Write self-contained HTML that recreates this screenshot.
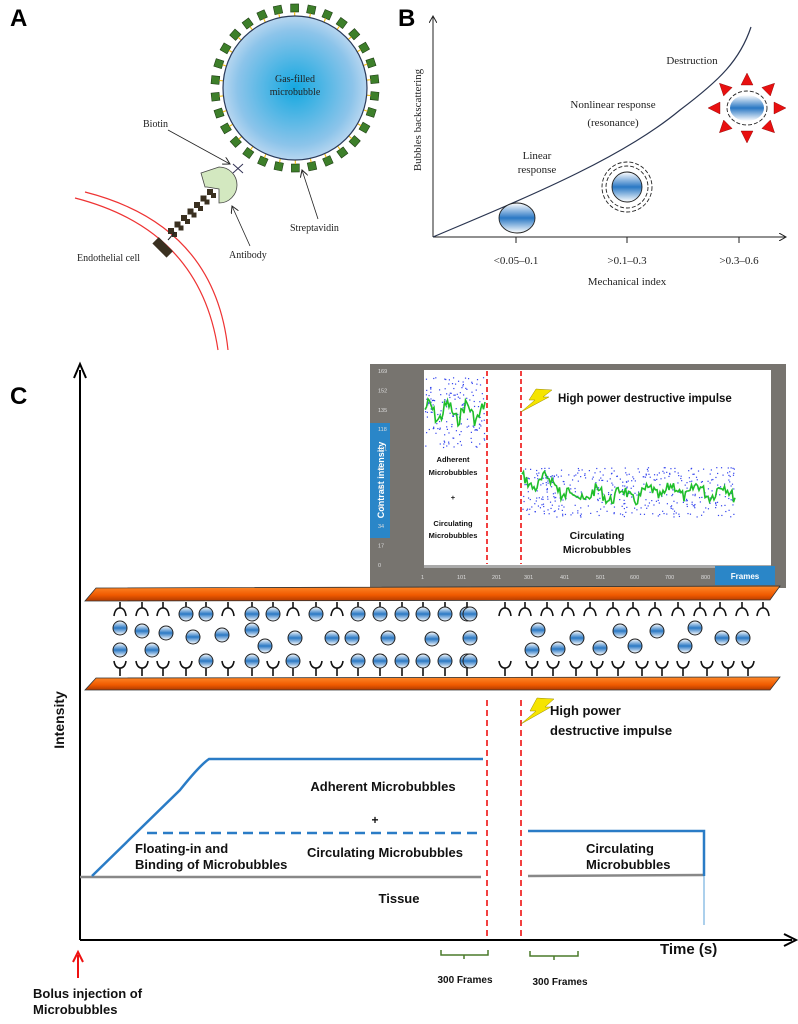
<!DOCTYPE html>
<html><head><meta charset="utf-8"><style>
html,body{margin:0;padding:0;background:#fff}
svg{display:block}
.s{font-family:"Liberation Serif",serif;fill:#222}
.b{font-family:"Liberation Sans Narrow","Liberation Sans",sans-serif;font-weight:bold;fill:#111}
</style></head><body>
<svg id="s" width="798" height="1024" viewBox="0 0 798 1024" xmlns="http://www.w3.org/2000/svg">
<defs>
<radialGradient id="gb" cx="50%" cy="50%" r="50%"><stop offset="0" stop-color="#14a8e0"/><stop offset="0.8" stop-color="#8cc4ea"/><stop offset="1" stop-color="#b7d6f0"/></radialGradient>
<linearGradient id="bb" x1="0" y1="0" x2="0" y2="1"><stop offset="0" stop-color="#fff"/><stop offset="0.5" stop-color="#2a78c4"/><stop offset="1" stop-color="#fff"/></linearGradient>
<linearGradient id="or" x1="0" y1="0" x2="0" y2="1"><stop offset="0" stop-color="#ff8a2a"/><stop offset="0.6" stop-color="#f05a00"/><stop offset="1" stop-color="#b03a00"/></linearGradient>
<marker id="ar" markerWidth="8" markerHeight="8" refX="7" refY="4" orient="auto" markerUnits="userSpaceOnUse"><path d="M0,0 L7,4 L0,8" fill="none" stroke="#222" stroke-width="1"/></marker>
</defs>

<!-- Panel A -->
<text x="10" y="26" font-family="Liberation Sans" font-weight="bold" font-size="24">A</text>
<path d="M75,198 Q200,230 218,350" fill="none" stroke="#e33" stroke-width="1.2"/>
<path d="M85,192 Q215,225 228,350" fill="none" stroke="#e33" stroke-width="1.2"/>
<g id="sq"></g>
<circle cx="295" cy="88" r="72" fill="url(#gb)" stroke="#2a3a5a" stroke-width="1.2"/>
<text class="s" x="295" y="82" font-size="10" text-anchor="middle">Gas-filled</text>
<text class="s" x="295" y="95" font-size="10" text-anchor="middle">microbubble</text>
<text class="s" x="143" y="127" font-size="10">Biotin</text>
<line x1="168" y1="130" x2="230" y2="164" stroke="#222" stroke-width="0.8" marker-end="url(#ar)"/>
<path d="M233,164 L243,173 M243,164 L233,173" stroke="#335" stroke-width="1"/>
<path d="M222,185 m-3,-18 a18,18 0 1,1 -0,36 l0,-14 l-12,-2 l-2,-0 l-4,-14 z" fill="#d3e8c0" stroke="#444" stroke-width="0.8"/>
<g id="chain"></g>
<text class="s" x="77" y="261" font-size="10">Endothelial cell</text>
<text class="s" x="229" y="258" font-size="10">Antibody</text>
<line x1="250" y1="246" x2="232" y2="206" stroke="#222" stroke-width="0.8" marker-end="url(#ar)"/>
<text class="s" x="290" y="231" font-size="10">Streptavidin</text>
<line x1="318" y1="219" x2="302" y2="170" stroke="#222" stroke-width="0.8" marker-end="url(#ar)"/>

<!-- Panel B -->
<text x="398" y="26" font-family="Liberation Sans" font-weight="bold" font-size="24">B</text>
<line x1="433" y1="237" x2="433" y2="16" stroke="#222" stroke-width="1" marker-end="url(#ar)"/>
<line x1="433" y1="237" x2="786" y2="237" stroke="#222" stroke-width="1" marker-end="url(#ar)"/>
<path d="M433,237 C520,200 620,160 680,110 C720,80 740,60 751,27" fill="none" stroke="#2a3550" stroke-width="1.2"/>
<line x1="516" y1="237" x2="516" y2="243" stroke="#222"/><line x1="627" y1="237" x2="627" y2="243" stroke="#222"/><line x1="739" y1="237" x2="739" y2="243" stroke="#222"/>
<text class="s" x="516" y="264" font-size="11" text-anchor="middle">&lt;0.05–0.1</text>
<text class="s" x="627" y="264" font-size="11" text-anchor="middle">&gt;0.1–0.3</text>
<text class="s" x="739" y="264" font-size="11" text-anchor="middle">&gt;0.3–0.6</text>
<text class="s" x="627" y="285" font-size="11" text-anchor="middle">Mechanical index</text>
<text class="s" transform="translate(421,120) rotate(-90)" font-size="11" text-anchor="middle">Bubbles backscattering</text>
<text class="s" x="692" y="64" font-size="11" text-anchor="middle">Destruction</text>
<text class="s" x="613" y="108" font-size="11" text-anchor="middle">Nonlinear response</text>
<text class="s" x="613" y="126" font-size="11" text-anchor="middle">(resonance)</text>
<text class="s" x="537" y="159" font-size="11" text-anchor="middle">Linear</text>
<text class="s" x="537" y="173" font-size="11" text-anchor="middle">response</text>
<ellipse cx="517" cy="218" rx="18" ry="15" fill="url(#bb)" stroke="#222" stroke-width="0.9"/>
<circle cx="627" cy="187" r="25" fill="none" stroke="#222" stroke-width="0.9" stroke-dasharray="4,2"/>
<circle cx="627" cy="187" r="21" fill="none" stroke="#222" stroke-width="0.9" stroke-dasharray="4,2"/>
<circle cx="627" cy="187" r="15" fill="url(#bb)" stroke="#222" stroke-width="0.9"/>
<ellipse cx="747" cy="108" rx="20" ry="17" fill="none" stroke="#222" stroke-width="0.9" stroke-dasharray="4,2"/>
<ellipse cx="747" cy="108" rx="17" ry="13" fill="url(#bb)"/>
<g id="tri"></g>

<!-- Panel C -->
<text x="10" y="404" font-family="Liberation Sans" font-weight="bold" font-size="24">C</text>
<line x1="80" y1="940" x2="80" y2="370" stroke="#000" stroke-width="2"/>
<path d="M74,378 L80,364 L86,378" fill="none" stroke="#000" stroke-width="2"/>
<line x1="80" y1="940" x2="792" y2="940" stroke="#000" stroke-width="2"/>
<path d="M784,934 L796,940 L784,946" fill="none" stroke="#000" stroke-width="2"/>
<text class="b" transform="translate(64,720) rotate(-90)" font-size="14" text-anchor="middle" font-family="Liberation Sans">Intensity</text>

<!-- inset -->
<rect x="370" y="364" width="416" height="224" fill="#77746f"/>
<rect x="424" y="370" width="347" height="195" fill="#fff"/>
<rect x="370" y="423" width="20" height="115" fill="#2a86c8"/>
<text transform="translate(384,480) rotate(-90)" font-family="Liberation Sans" font-weight="bold" font-size="9" fill="#fff" text-anchor="middle">Contrast intensity</text>
<g id="yl" font-family="Liberation Sans" font-size="5.5" fill="#ddd"></g>
<rect x="424" y="565" width="347" height="3" fill="#aaa"/>
<g id="xl" font-family="Liberation Sans" font-size="5.5" fill="#ddd"></g>
<rect x="715" y="566" width="60" height="19" fill="#2a86c8"/>
<text x="745" y="579" font-family="Liberation Sans" font-weight="bold" font-size="8" fill="#fff" text-anchor="middle">Frames</text>
<g id="dots"></g>
<polyline id="gl1" fill="none" stroke="#1fbe2a" stroke-width="1.6"/>
<polyline id="gl2" fill="none" stroke="#1fbe2a" stroke-width="1.6"/>
<line x1="487" y1="371" x2="487" y2="564" stroke="#e11" stroke-width="1.6" stroke-dasharray="5,3"/>
<line x1="521" y1="371" x2="521" y2="564" stroke="#e11" stroke-width="1.6" stroke-dasharray="5,3"/>
<path d="M536,389 L552,390 L543,397 L549,397 L521,412 L535,400 L529,400 Z" fill="#f5e400" stroke="#9a8a00" stroke-width="0.5"/>
<text x="558" y="402" font-family="Liberation Sans" font-weight="bold" font-size="11.5" fill="#111">High power destructive impulse</text>
<g font-family="Liberation Sans" font-weight="bold" font-size="7.5" fill="#111" text-anchor="middle">
<text x="453" y="462">Adherent</text><text x="453" y="475">Microbubbles</text><text x="453" y="500">+</text>
<text x="453" y="526">Circulating</text><text x="453" y="538">Microbubbles</text></g>
<g font-family="Liberation Sans" font-weight="bold" font-size="10.5" fill="#111" text-anchor="middle">
<text x="597" y="539">Circulating</text><text x="597" y="553">Microbubbles</text></g>

<!-- vessel -->
<path d="M96,588 L780,586 L770,600 L85,601 Z" fill="url(#or)" stroke="#333" stroke-width="0.8"/>
<path d="M96,678 L780,677 L770,690 L85,690 Z" fill="url(#or)" stroke="#333" stroke-width="0.8"/>
<g id="ves" stroke="#111" stroke-width="1.6" fill="none"></g>

<!-- lower graph -->
<line x1="487" y1="700" x2="487" y2="940" stroke="#e11" stroke-width="1.6" stroke-dasharray="6,4"/>
<line x1="521" y1="700" x2="521" y2="940" stroke="#e11" stroke-width="1.6" stroke-dasharray="6,4"/>
<path d="M537,698 L554,699 L545,707 L551,707 L521,724 L536,711 L530,711 Z" fill="#f5e400" stroke="#9a8a00" stroke-width="0.5"/>
<text class="b" x="550" y="715" font-size="13">High power</text>
<text class="b" x="550" y="735" font-size="13">destructive impulse</text>
<line x1="80" y1="877" x2="481" y2="877" stroke="#888" stroke-width="2.5"/>
<line x1="528" y1="876" x2="704" y2="875" stroke="#888" stroke-width="2.5"/>
<path d="M92,876 L180,790 Q200,765 209,759 L483,759" fill="none" stroke="#2a7cc6" stroke-width="2.5"/>
<line x1="147" y1="833" x2="483" y2="833" stroke="#2a7cc6" stroke-width="2.5" stroke-dasharray="10,6"/>
<path d="M528,831 L704,831 L704,876" fill="none" stroke="#2a7cc6" stroke-width="2.5"/>
<line x1="704" y1="876" x2="704" y2="925" stroke="#5aa0d8" stroke-width="1"/>
<text class="b" x="383" y="791" font-size="13" text-anchor="middle">Adherent Microbubbles</text>
<text class="b" x="375" y="824" font-size="12" text-anchor="middle">+</text>
<text class="b" x="135" y="853" font-size="13">Floating-in and</text>
<text class="b" x="135" y="869" font-size="13">Binding of Microbubbles</text>
<text class="b" x="385" y="857" font-size="13" text-anchor="middle">Circulating Microbubbles</text>
<text class="b" x="586" y="853" font-size="13">Circulating</text>
<text class="b" x="586" y="869" font-size="13">Microbubbles</text>
<text class="b" x="399" y="903" font-size="13" text-anchor="middle">Tissue</text>
<text class="b" x="660" y="954" font-size="15">Time (s)</text>
<path d="M441,950 L441,955 L488,955 L488,950 M464,955 L464,959" fill="none" stroke="#4a7a2a" stroke-width="1.5"/>
<path d="M530,951 L530,956 L578,956 L578,951 M554,956 L554,960" fill="none" stroke="#4a7a2a" stroke-width="1.5"/>
<text class="b" x="465" y="983" font-size="10" text-anchor="middle">300 Frames</text>
<text class="b" x="560" y="985" font-size="10" text-anchor="middle">300 Frames</text>
<line x1="78" y1="978" x2="78" y2="955" stroke="#e11" stroke-width="2"/>
<path d="M73,962 L78,952 L83,962" fill="none" stroke="#e11" stroke-width="2"/>
<text class="b" x="33" y="998" font-size="13">Bolus injection of</text>
<text class="b" x="33" y="1014" font-size="13">Microbubbles</text>
</svg>
<script>
var NS="http://www.w3.org/2000/svg";
function el(p,t,a,txt){var e=document.createElementNS(NS,t);for(var k in a)e.setAttribute(k,a[k]);if(txt!==undefined)e.textContent=txt;document.getElementById(p).appendChild(e);return e;}
for(var i=0;i<30;i++){var a=i/30*2*Math.PI+0.1;var cx=295+80*Math.cos(a),cy=88+80*Math.sin(a);
el("sq","rect",{x:cx-4,y:cy-4,width:8,height:8,fill:"#3d7f2a",stroke:"#1e3e14","stroke-width":0.6,transform:"rotate("+(a*57.3)+" "+cx+" "+cy+")"});
var x1=295+72*Math.cos(a),y1=88+72*Math.sin(a);el("sq","line",{x1:x1,y1:y1,x2:295+76*Math.cos(a),y2:88+76*Math.sin(a),stroke:"#f0c020","stroke-width":1.2});}
for(var j=0;j<7;j++){var x=210-j*6.5,y=192+j*6.5;
el("chain","rect",{x:x-3,y:y-3,width:6,height:6,fill:"#3a3020"});
el("chain","rect",{x:x-3+4,y:y-3+4,width:5,height:5,fill:"#3a3020"});}
el("chain","line",{x1:175,y1:232,x2:168,y2:240,stroke:"#222","stroke-width":1});
el("chain","rect",{x:153,y:243,width:20,height:9,fill:"#3a3020",transform:"rotate(45 163 247)"});
for(var k=0;k<8;k++){var a=k/8*2*Math.PI;var cx=747+32*Math.cos(a),cy=108+28*Math.sin(a);
el("tri","path",{d:"M7,0 L-5,-6 L-5,6 Z",fill:"#e81010",stroke:"#800",'stroke-width':0.4,transform:"translate("+cx+","+cy+") rotate("+(a*57.3)+")"});}
var yv=[169,152,135,118,101,84,68,51,34,17,0];
for(var i=0;i<11;i++)el("yl","text",{x:378,y:373+i*19.4},yv[i]);
var xv=["1","101","201","301","401","501","600","700","800"],xp=[424,460,495,527,563,599,633,668,704];
for(var i=0;i<9;i++)el("xl","text",{x:xp[i]-3,y:579},xv[i]);
var s=7;function r(){s=(s*9301+49297)%233280;return s/233280;}
var p1=[],p2=[];
for(var x=425;x<=486;x+=1.5){var y=412+8*Math.sin(x/3)+ (r()-0.5)*14;p1.push(x+","+y.toFixed(1));}
for(var x=522;x<=735;x+=1.5){var base=x<560?482:495+ (x>650?-4:0);var y=base+6*Math.sin(x/4)+(r()-0.5)*12;p2.push(x+","+y.toFixed(1));}
document.getElementById("gl1").setAttribute("points",p1.join(" "));
document.getElementById("gl2").setAttribute("points",p2.join(" "));
for(var i=0;i<170;i++){var x=425+r()*61,y=412+(r()-0.5)*70;el("dots","rect",{x:x,y:y,width:1.2,height:1.2,fill:"#3344ee"});}
for(var i=0;i<420;i++){var x=522+r()*213,y=492+(r()-0.5)*50;el("dots","rect",{x:x,y:y,width:1.2,height:1.2,fill:"#3344ee"});}
function bub(x,y){el("ves","circle",{cx:x,cy:y,r:7,fill:"url(#bb)",stroke:"#222","stroke-width":1});}
function topR(x,b){el("ves","line",{x1:x,y1:602,x2:x,y2:608});if(b)bub(x,614);else el("ves","path",{d:"M"+(x-6)+",616 Q"+(x-5)+",608 "+x+",608 Q"+(x+5)+",608 "+(x+6)+",616"});}
function botR(x,b){el("ves","line",{x1:x,y1:668,x2:x,y2:676});if(b)bub(x,661);else el("ves","path",{d:"M"+(x-6)+",661 Q"+(x-5)+",668 "+x+",668 Q"+(x+5)+",668 "+(x+6)+",661"});}
var tx=[120,142,163,186,206,228,252,273,293,316,337,358,380,402,423,445,467],tb=[0,0,0,1,1,0,1,1,0,1,0,1,1,1,1,1,1];
for(var i=0;i<tx.length;i++)topR(tx[i],tb[i]);
var rx=[505,525,547,568,590,613,633,655,678,700,720,742,763];for(var i=0;i<rx.length;i++)topR(rx[i],0);
var bx=[120,142,163,186,206,228,252,273,293,316,337,358,380,402,423,445,467],bbv=[0,0,0,0,1,0,1,0,1,0,0,1,1,1,1,1,1];
for(var i=0;i<bx.length;i++)botR(bx[i],bbv[i]);
var rbx=[505,532,553,576,597,618,642,662,683,707,728,748];for(var i=0;i<rbx.length;i++)botR(rbx[i],0);
var mb=[[120,628],[142,631],[166,633],[193,637],[222,635],[252,630],[265,646],[295,638],[332,638],[352,638],[388,638],[432,639],[470,638],[120,650],[152,650],
[538,630],[532,650],[558,649],[577,638],[600,648],[620,631],[635,646],[657,631],[685,646],[695,628],[722,638],[743,638]];
for(var i=0;i<mb.length;i++)bub(mb[i][0],mb[i][1]);
bub(470,614);bub(470,661);
</script>
</body></html>
